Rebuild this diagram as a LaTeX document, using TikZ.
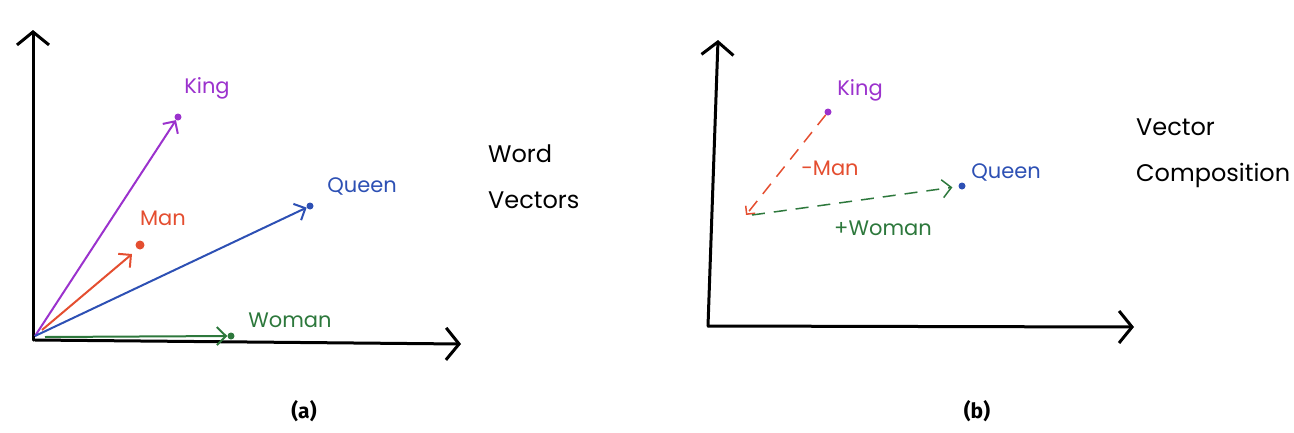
\documentclass[tikz,border=0pt]{standalone}
\usepackage{fontspec}
\setmainfont{Fira Sans}
\newfontfamily\handfont{Poppins}
\usetikzlibrary{arrows.meta}
\definecolor{kingcol}{RGB}{155,50,205}
\definecolor{mancol}{RGB}{228,78,48}
\definecolor{queencol}{RGB}{45,80,180}
\definecolor{womancol}{RGB}{45,120,60}
\tikzset{
	axis/.style={line width=3pt,line cap=round,-{Straight Barb[length=13pt,width=32pt,line width=3pt]}},
	vec/.style={line width=2pt,-{Straight Barb[length=9pt,width=18pt,line width=2pt]}},
	dashvec/.style={line width=1.5pt,dash pattern=on 13pt off 9pt,-{Straight Barb[length=9pt,width=18pt,line width=1.5pt]}},
	wdot/.style={circle,fill,inner sep=0pt,minimum size=7pt},
	word/.style={font=\handfont\fontsize{21}{24}\selectfont,inner sep=0pt},
	caption/.style={font=\bfseries\fontsize{21}{24}\selectfont,inner sep=0pt}
}
\begin{document}
\begin{tikzpicture}[x=1pt,y=-1pt]
	\useasboundingbox (0,0) rectangle (1294,432);
	% (a) word vectors
	\coordinate (o1) at (35,336);
	\coordinate (y1) at (33,30);
	\coordinate (x1) at (461,344);
	\draw[axis] (o1) ++(-2,4) -- (y1);
	\draw[axis] (o1) ++(0,4) -- (x1);
	\node[wdot,kingcol] (king) at (178,117) {};
	\node[wdot,mancol,minimum size=9pt] (man) at (140,245) {};
	\node[wdot,queencol] (queen) at (310,206) {};
	\node[wdot,womancol] (woman) at (231,336) {};
	\node[word,kingcol] (kinglab) at (207,88) {King};
	\node[word,mancol] (manlab) at (163,218) {Man};
	\node[word,queencol] (queenlab) at (362,186) {Queen};
	\node[word,womancol] (womanlab) at (290,320) {Woman};
	\draw[vec,kingcol] (o1) -- (king);
	\draw[vec,mancol] (o1) ++(7,-6) -- ([shift={(-8,9)}]man.center);
	\draw[vec,queencol] (o1) -- (queen);
	\draw[vec,womancol] (o1) ++(10,1) -- (woman);
	\node[word,align=left,anchor=west,font=\handfont\fontsize{24}{46}\selectfont] (wordvec) at (488,177) {Word\\Vectors};
	\node[caption] (capa) at (304,411) {(a)};
	% (b) vector composition
	\coordinate (o2) at (708,326);
	\coordinate (y2) at (718,40);
	\coordinate (x2) at (1134,327);
	\coordinate (tail) at (746,215);
	\draw[axis] (o2) -- (y2);
	\draw[axis] (o2) -- (x2);
	\node[wdot,kingcol] (king2) at (828,112) {};
	\node[wdot,queencol] (queen2) at (962,186) {};
	\node[word,kingcol] (kinglab2) at (860,90) {King};
	\node[word,queencol] (queenlab2) at (1006,172) {Queen};
	\draw[dashvec,mancol,-{Straight Barb[length=6pt,width=12pt,line width=1.5pt]}] (king2) -- (tail);
	\draw[dashvec,womancol,shorten >=6pt] (tail) ++(6,0) -- (queen2);
	\node[word,mancol] (minusman) at (830,168) {-Man};
	\node[word,womancol] (pluswoman) at (883,228) {+Woman};
	\node[word,align=left,anchor=west,font=\handfont\fontsize{24}{46}\selectfont] (veccomp) at (1136,153) {Vector\\Composition};
	\node[caption] (capb) at (977,411) {(b)};
\end{tikzpicture}
\end{document}
